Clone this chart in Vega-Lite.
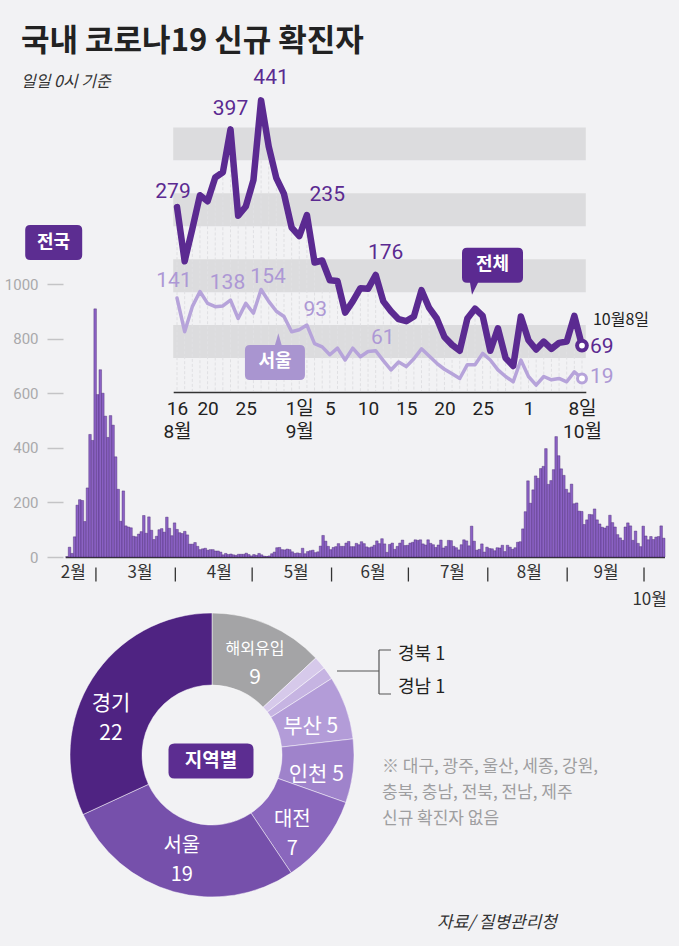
{
  "$schema": "https://vega.github.io/schema/vega-lite/v6.json",
  "width": 679,
  "height": 946,
  "autosize": {"type": "none"},
  "padding": 0,
  "background": "#f2f2f4",
  "config": {"view": {"stroke": null}, "font": "Noto Sans CJK KR", "axis": {"grid": false}},
  "title": {
    "text": "국내 코로나19 신규 확진자",
    "subtitle": "일일 0시 기준",
    "anchor": "start",
    "frame": "group",
    "offset": -91,
    "dx": 21,
    "font": "Noto Sans CJK KR",
    "fontSize": 31,
    "fontWeight": "bold",
    "color": "#222222",
    "subtitleFont": "Noto Sans CJK KR",
    "subtitleFontSize": 16,
    "subtitleFontStyle": "italic",
    "subtitleColor": "#333333",
    "subtitlePadding": 16
  },
  "datasets": {
    "daily": [
      {"date":"2020-02-18","n":1},{"date":"2020-02-19","n":36},{"date":"2020-02-20","n":13},{"date":"2020-02-21","n":74},{"date":"2020-02-22","n":190},{"date":"2020-02-23","n":210},{"date":"2020-02-24","n":207},{"date":"2020-02-25","n":130},{"date":"2020-02-26","n":253},{"date":"2020-02-27","n":449},{"date":"2020-02-28","n":427},{"date":"2020-02-29","n":909},
      {"date":"2020-03-01","n":595},{"date":"2020-03-02","n":686},{"date":"2020-03-03","n":600},{"date":"2020-03-04","n":516},{"date":"2020-03-05","n":438},{"date":"2020-03-06","n":518},{"date":"2020-03-07","n":483},{"date":"2020-03-08","n":367},{"date":"2020-03-09","n":248},{"date":"2020-03-10","n":131},{"date":"2020-03-11","n":242},{"date":"2020-03-12","n":114},{"date":"2020-03-13","n":110},{"date":"2020-03-14","n":107},{"date":"2020-03-15","n":76},{"date":"2020-03-16","n":74},{"date":"2020-03-17","n":84},{"date":"2020-03-18","n":93},{"date":"2020-03-19","n":152},{"date":"2020-03-20","n":87},{"date":"2020-03-21","n":147},{"date":"2020-03-22","n":98},{"date":"2020-03-23","n":64},{"date":"2020-03-24","n":76},{"date":"2020-03-25","n":100},{"date":"2020-03-26","n":104},{"date":"2020-03-27","n":91},{"date":"2020-03-28","n":146},{"date":"2020-03-29","n":105},{"date":"2020-03-30","n":78},{"date":"2020-03-31","n":125},
      {"date":"2020-04-01","n":101},{"date":"2020-04-02","n":89},{"date":"2020-04-03","n":86},{"date":"2020-04-04","n":94},{"date":"2020-04-05","n":81},{"date":"2020-04-06","n":47},{"date":"2020-04-07","n":47},{"date":"2020-04-08","n":53},{"date":"2020-04-09","n":39},{"date":"2020-04-10","n":27},{"date":"2020-04-11","n":30},{"date":"2020-04-12","n":32},{"date":"2020-04-13","n":25},{"date":"2020-04-14","n":27},{"date":"2020-04-15","n":27},{"date":"2020-04-16","n":22},{"date":"2020-04-17","n":22},{"date":"2020-04-18","n":18},{"date":"2020-04-19","n":8},{"date":"2020-04-20","n":13},{"date":"2020-04-21","n":9},{"date":"2020-04-22","n":11},{"date":"2020-04-23","n":8},{"date":"2020-04-24","n":6},{"date":"2020-04-25","n":10},{"date":"2020-04-26","n":10},{"date":"2020-04-27","n":10},{"date":"2020-04-28","n":14},{"date":"2020-04-29","n":9},{"date":"2020-04-30","n":4},
      {"date":"2020-05-01","n":9},{"date":"2020-05-02","n":6},{"date":"2020-05-03","n":13},{"date":"2020-05-04","n":8},{"date":"2020-05-05","n":3},{"date":"2020-05-06","n":2},{"date":"2020-05-07","n":4},{"date":"2020-05-08","n":12},{"date":"2020-05-09","n":18},{"date":"2020-05-10","n":34},{"date":"2020-05-11","n":35},{"date":"2020-05-12","n":27},{"date":"2020-05-13","n":26},{"date":"2020-05-14","n":29},{"date":"2020-05-15","n":27},{"date":"2020-05-16","n":19},{"date":"2020-05-17","n":13},{"date":"2020-05-18","n":15},{"date":"2020-05-19","n":13},{"date":"2020-05-20","n":32},{"date":"2020-05-21","n":12},{"date":"2020-05-22","n":20},{"date":"2020-05-23","n":23},{"date":"2020-05-24","n":25},{"date":"2020-05-25","n":16},{"date":"2020-05-26","n":19},{"date":"2020-05-27","n":40},{"date":"2020-05-28","n":79},{"date":"2020-05-29","n":58},{"date":"2020-05-30","n":39},{"date":"2020-05-31","n":27},
      {"date":"2020-06-01","n":35},{"date":"2020-06-02","n":38},{"date":"2020-06-03","n":49},{"date":"2020-06-04","n":39},{"date":"2020-06-05","n":39},{"date":"2020-06-06","n":51},{"date":"2020-06-07","n":57},{"date":"2020-06-08","n":38},{"date":"2020-06-09","n":38},{"date":"2020-06-10","n":50},{"date":"2020-06-11","n":45},{"date":"2020-06-12","n":56},{"date":"2020-06-13","n":49},{"date":"2020-06-14","n":37},{"date":"2020-06-15","n":34},{"date":"2020-06-16","n":37},{"date":"2020-06-17","n":43},{"date":"2020-06-18","n":59},{"date":"2020-06-19","n":49},{"date":"2020-06-20","n":67},{"date":"2020-06-21","n":48},{"date":"2020-06-22","n":17},{"date":"2020-06-23","n":46},{"date":"2020-06-24","n":51},{"date":"2020-06-25","n":28},{"date":"2020-06-26","n":39},{"date":"2020-06-27","n":51},{"date":"2020-06-28","n":62},{"date":"2020-06-29","n":42},{"date":"2020-06-30","n":43},
      {"date":"2020-07-01","n":51},{"date":"2020-07-02","n":54},{"date":"2020-07-03","n":63},{"date":"2020-07-04","n":61},{"date":"2020-07-05","n":63},{"date":"2020-07-06","n":48},{"date":"2020-07-07","n":44},{"date":"2020-07-08","n":63},{"date":"2020-07-09","n":50},{"date":"2020-07-10","n":45},{"date":"2020-07-11","n":35},{"date":"2020-07-12","n":44},{"date":"2020-07-13","n":62},{"date":"2020-07-14","n":33},{"date":"2020-07-15","n":39},{"date":"2020-07-16","n":61},{"date":"2020-07-17","n":60},{"date":"2020-07-18","n":39},{"date":"2020-07-19","n":34},{"date":"2020-07-20","n":26},{"date":"2020-07-21","n":45},{"date":"2020-07-22","n":63},{"date":"2020-07-23","n":59},{"date":"2020-07-24","n":41},{"date":"2020-07-25","n":113},{"date":"2020-07-26","n":58},{"date":"2020-07-27","n":25},{"date":"2020-07-28","n":28},{"date":"2020-07-29","n":48},{"date":"2020-07-30","n":18},{"date":"2020-07-31","n":36},
      {"date":"2020-08-01","n":31},{"date":"2020-08-02","n":30},{"date":"2020-08-03","n":23},{"date":"2020-08-04","n":34},{"date":"2020-08-05","n":33},{"date":"2020-08-06","n":43},{"date":"2020-08-07","n":20},{"date":"2020-08-08","n":43},{"date":"2020-08-09","n":36},{"date":"2020-08-10","n":28},{"date":"2020-08-11","n":34},{"date":"2020-08-12","n":54},{"date":"2020-08-13","n":56},{"date":"2020-08-14","n":103},{"date":"2020-08-15","n":166},{"date":"2020-08-16","n":279},{"date":"2020-08-17","n":197},{"date":"2020-08-18","n":246},{"date":"2020-08-19","n":297},{"date":"2020-08-20","n":288},{"date":"2020-08-21","n":324},{"date":"2020-08-22","n":332},{"date":"2020-08-23","n":397},{"date":"2020-08-24","n":266},{"date":"2020-08-25","n":280},{"date":"2020-08-26","n":320},{"date":"2020-08-27","n":441},{"date":"2020-08-28","n":371},{"date":"2020-08-29","n":323},{"date":"2020-08-30","n":299},{"date":"2020-08-31","n":248},
      {"date":"2020-09-01","n":235},{"date":"2020-09-02","n":267},{"date":"2020-09-03","n":195},{"date":"2020-09-04","n":198},{"date":"2020-09-05","n":168},{"date":"2020-09-06","n":167},{"date":"2020-09-07","n":119},{"date":"2020-09-08","n":136},{"date":"2020-09-09","n":156},{"date":"2020-09-10","n":155},{"date":"2020-09-11","n":176},{"date":"2020-09-12","n":136},{"date":"2020-09-13","n":121},{"date":"2020-09-14","n":109},{"date":"2020-09-15","n":106},{"date":"2020-09-16","n":113},{"date":"2020-09-17","n":153},{"date":"2020-09-18","n":126},{"date":"2020-09-19","n":110},{"date":"2020-09-20","n":82},{"date":"2020-09-21","n":70},{"date":"2020-09-22","n":61},{"date":"2020-09-23","n":110},{"date":"2020-09-24","n":125},{"date":"2020-09-25","n":114},{"date":"2020-09-26","n":61},{"date":"2020-09-27","n":95},{"date":"2020-09-28","n":50},{"date":"2020-09-29","n":38},{"date":"2020-09-30","n":113},
      {"date":"2020-10-01","n":77},{"date":"2020-10-02","n":63},{"date":"2020-10-03","n":75},{"date":"2020-10-04","n":64},{"date":"2020-10-05","n":73},{"date":"2020-10-06","n":75},{"date":"2020-10-07","n":114},{"date":"2020-10-08","n":69}
    ],
    "inset": [
      {"date":"2020-08-16","total":279,"seoul":141},{"date":"2020-08-17","total":197,"seoul":90},{"date":"2020-08-18","total":246,"seoul":128},{"date":"2020-08-19","total":297,"seoul":151},{"date":"2020-08-20","total":288,"seoul":133},{"date":"2020-08-21","total":324,"seoul":128},{"date":"2020-08-22","total":332,"seoul":129},{"date":"2020-08-23","total":397,"seoul":138},{"date":"2020-08-24","total":266,"seoul":110},{"date":"2020-08-25","total":280,"seoul":133},{"date":"2020-08-26","total":320,"seoul":118},{"date":"2020-08-27","total":441,"seoul":154},{"date":"2020-08-28","total":371,"seoul":136},{"date":"2020-08-29","total":323,"seoul":121},{"date":"2020-08-30","total":299,"seoul":113},{"date":"2020-08-31","total":248,"seoul":90},
      {"date":"2020-09-01","total":235,"seoul":93},{"date":"2020-09-02","total":267,"seoul":100},{"date":"2020-09-03","total":195,"seoul":72},{"date":"2020-09-04","total":198,"seoul":67},{"date":"2020-09-05","total":168,"seoul":55},{"date":"2020-09-06","total":167,"seoul":65},{"date":"2020-09-07","total":119,"seoul":47},{"date":"2020-09-08","total":136,"seoul":65},{"date":"2020-09-09","total":156,"seoul":52},{"date":"2020-09-10","total":155,"seoul":60},{"date":"2020-09-11","total":176,"seoul":61},{"date":"2020-09-12","total":136,"seoul":46},{"date":"2020-09-13","total":121,"seoul":32},{"date":"2020-09-14","total":109,"seoul":44},{"date":"2020-09-15","total":106,"seoul":37},{"date":"2020-09-16","total":113,"seoul":49},{"date":"2020-09-17","total":153,"seoul":64},{"date":"2020-09-18","total":126,"seoul":53},{"date":"2020-09-19","total":110,"seoul":42},{"date":"2020-09-20","total":82,"seoul":33},{"date":"2020-09-21","total":70,"seoul":26},{"date":"2020-09-22","total":61,"seoul":19},{"date":"2020-09-23","total":110,"seoul":40},{"date":"2020-09-24","total":125,"seoul":40},{"date":"2020-09-25","total":114,"seoul":57},{"date":"2020-09-26","total":61,"seoul":47},{"date":"2020-09-27","total":95,"seoul":32},{"date":"2020-09-28","total":50,"seoul":22},{"date":"2020-09-29","total":38,"seoul":14},{"date":"2020-09-30","total":113,"seoul":47},
      {"date":"2020-10-01","total":77,"seoul":22},{"date":"2020-10-02","total":63,"seoul":9},{"date":"2020-10-03","total":75,"seoul":22},{"date":"2020-10-04","total":64,"seoul":17},{"date":"2020-10-05","total":73,"seoul":19},{"date":"2020-10-06","total":75,"seoul":14},{"date":"2020-10-07","total":114,"seoul":29},{"date":"2020-10-08","total":69,"seoul":19}
    ],
    "regions": [
      {"i":1,"region":"해외유입","n":9},
      {"i":2,"region":"경북","n":1},
      {"i":3,"region":"경남","n":1},
      {"i":4,"region":"부산","n":5},
      {"i":5,"region":"인천","n":5},
      {"i":6,"region":"대전","n":7},
      {"i":7,"region":"서울","n":19},
      {"i":8,"region":"경기","n":22}
    ],
    "months": [
      {"date":"2020-03-01"},{"date":"2020-04-01"},{"date":"2020-05-01"},{"date":"2020-06-01"},{"date":"2020-07-01"},{"date":"2020-08-01"},{"date":"2020-09-01"},{"date":"2020-10-01"}
    ],
    "bands": [{"lo":350,"hi":400},{"lo":250,"hi":300},{"lo":150,"hi":200},{"lo":50,"hi":100}]
  },
  "resolve": {
    "scale": {"x": "independent", "y": "independent"},
    "axis": {"x": "independent", "y": "independent"}
  },
  "layer": [
    {
      "data": {"name": "daily"},
      "mark": {"type": "bar", "color": "#8b62c4", "stroke": "#43206f", "strokeWidth": 0.4, "binSpacing": 0},
      "encoding": {
        "x": {
          "field": "date", "type": "temporal", "timeUnit": "utcyearmonthdate",
          "scale": {"type": "utc", "domain": [{"year":2020,"month":2,"date":18,"utc":true},{"year":2020,"month":10,"date":9,"utc":true}], "range": [65.2, 664.5], "nice": false},
          "axis": {
            "orient": "bottom", "offset": -389,
            "values": [{"year":2020,"month":2,"date":21,"utc":true},{"year":2020,"month":3,"date":18,"utc":true},{"year":2020,"month":4,"date":18,"utc":true},{"year":2020,"month":5,"date":18,"utc":true},{"year":2020,"month":6,"date":17,"utc":true},{"year":2020,"month":7,"date":18,"utc":true},{"year":2020,"month":8,"date":17,"utc":true},{"year":2020,"month":9,"date":16,"utc":true},{"year":2020,"month":10,"date":3,"utc":true}],
            "labelExpr": "utcmonth(datum.value) == 9 ? ['', '10월'] : (utcmonth(datum.value) + 1) + '월'",
            "ticks": false, "domainColor": "#333333", "domainWidth": 1.6,
            "labelFont": "Noto Sans CJK KR", "labelFontSize": 17, "labelColor": "#333333", "labelPadding": 7,
            "labelLineHeight": 27, "labelBaseline": "top", "labelAlign": "center",
            "labelOverlap": false, "labelFlush": false, "labelBound": false, "title": null, "grid": false
          }
        },
        "y": {
          "field": "n", "type": "quantitative",
          "scale": {"domain": [0, 1000], "range": [557, 284], "nice": false, "zero": false},
          "axis": {
            "orient": "left", "offset": -63, "values": [0, 200, 400, 600, 800, 1000], "format": "d",
            "tickSize": 16, "tickColor": "#c4c4c6", "tickWidth": 1.5, "domain": false,
            "labelFont": "Roboto", "labelFontSize": 15, "labelColor": "#a9a9ab", "labelPadding": 9,
            "title": null, "grid": false, "labelFlush": false
          }
        }
      }
    },
    {
      "data": {"name": "months"},
      "mark": {"type": "tick", "orient": "vertical", "color": "#333333", "thickness": 1.3, "size": 14, "yOffset": 17.5, "opacity": 1},
      "encoding": {
        "x": {"field": "date", "type": "temporal", "scale": {"type": "utc", "domain": [{"year":2020,"month":2,"date":18,"utc":true},{"year":2020,"month":10,"date":9,"utc":true}], "range": [65.2, 664.5], "nice": false}, "axis": null},
        "y": {"datum": 0, "type": "quantitative", "scale": {"domain": [0, 1000], "range": [557, 284], "nice": false, "zero": false}, "axis": null}
      }
    },
    {
      "data": {"values": [{"label": "전국"}]},
      "mark": {"type": "point", "shape": "M-35,-59 H12 Q17,-59 17,-54 V-29 Q17,-24 12,-24 H-35 Q-40,-24 -40,-29 V-54 Q-40,-59 -35,-59 Z", "size": 4, "filled": true, "color": "#5c2d91", "opacity": 1, "strokeWidth": 0},
      "encoding": {
        "x": {"datum": {"year":2020,"month":2,"date":18,"utc":true}, "type": "temporal", "scale": {"type": "utc", "domain": [{"year":2020,"month":2,"date":18,"utc":true},{"year":2020,"month":10,"date":9,"utc":true}], "range": [65.2, 664.5], "nice": false}, "axis": null},
        "y": {"datum": 1000, "type": "quantitative", "scale": {"domain": [0, 1000], "range": [557, 284], "nice": false, "zero": false}, "axis": null}
      }
    },
    {
      "data": {"values": [{"label": "전국"}]},
      "mark": {"type": "text", "dx": -11.7, "dy": -41.5, "align": "center", "baseline": "middle", "color": "#ffffff", "fontSize": 18, "fontWeight": "bold"},
      "encoding": {
        "x": {"datum": {"year":2020,"month":2,"date":18,"utc":true}, "type": "temporal", "scale": {"type": "utc", "domain": [{"year":2020,"month":2,"date":18,"utc":true},{"year":2020,"month":10,"date":9,"utc":true}], "range": [65.2, 664.5], "nice": false}, "axis": null},
        "y": {"datum": 1000, "type": "quantitative", "scale": {"domain": [0, 1000], "range": [557, 284], "nice": false, "zero": false}, "axis": null},
        "text": {"field": "label", "type": "nominal"}
      }
    },
    {
      "data": {"name": "bands"},
      "mark": {"type": "rect", "color": "#dcdcde"},
      "encoding": {
        "x": {"datum": {"year":2020,"month":8,"date":15,"hours":12,"utc":true}, "type": "temporal",
              "scale": {"type": "utc", "domain": [{"year":2020,"month":8,"date":15,"hours":12,"utc":true},{"year":2020,"month":10,"date":8,"hours":12,"utc":true}], "range": [173.2, 585.8], "nice": false}, "axis": null},
        "x2": {"datum": {"year":2020,"month":10,"date":8,"hours":12,"utc":true}},
        "y": {"field": "lo", "type": "quantitative", "scale": {"domain": [0, 400], "range": [391, 127.4], "nice": false, "zero": false}, "axis": null},
        "y2": {"field": "hi"}
      }
    },
    {
      "data": {"name": "inset"},
      "mark": {"type": "rule", "color": "#e0e0e3", "strokeWidth": 1, "strokeDash": [3, 2]},
      "encoding": {
        "x": {"field": "date", "type": "temporal", "scale": {"type": "utc", "domain": [{"year":2020,"month":8,"date":15,"hours":12,"utc":true},{"year":2020,"month":10,"date":8,"hours":12,"utc":true}], "range": [173.2, 585.8], "nice": false}, "axis": null},
        "y": {"field": "total", "type": "quantitative", "scale": {"domain": [0, 400], "range": [391, 127.4], "nice": false, "zero": false}, "axis": null},
        "y2": {"datum": 0}
      }
    },
    {
      "data": {"name": "inset"},
      "mark": {"type": "line", "color": "#b6a3da", "strokeWidth": 3.5, "strokeJoin": "round", "strokeCap": "round"},
      "encoding": {
        "x": {
          "field": "date", "type": "temporal",
          "scale": {"type": "utc", "domain": [{"year":2020,"month":8,"date":15,"hours":12,"utc":true},{"year":2020,"month":10,"date":8,"hours":12,"utc":true}], "range": [173.2, 585.8], "nice": false},
          "axis": {
            "orient": "bottom", "offset": -554,
            "values": [{"year":2020,"month":8,"date":16,"utc":true},{"year":2020,"month":8,"date":20,"utc":true},{"year":2020,"month":8,"date":25,"utc":true},{"year":2020,"month":9,"date":1,"utc":true},{"year":2020,"month":9,"date":5,"utc":true},{"year":2020,"month":9,"date":10,"utc":true},{"year":2020,"month":9,"date":15,"utc":true},{"year":2020,"month":9,"date":20,"utc":true},{"year":2020,"month":9,"date":25,"utc":true},{"year":2020,"month":10,"date":1,"utc":true},{"year":2020,"month":10,"date":8,"utc":true}],
            "labelExpr": "utcmonth(datum.value) == 7 && utcdate(datum.value) == 16 ? ['16', '8월'] : (utcmonth(datum.value) == 8 && utcdate(datum.value) == 1 ? ['\u30001일', '\u30009월'] : (utcmonth(datum.value) == 9 && utcdate(datum.value) == 8 ? ['\u30008일', '\u200210월'] : '' + utcdate(datum.value)))",
            "ticks": false, "domainColor": "#333333", "domainWidth": 1.6,
            "labelFont": "Roboto, 'Noto Sans CJK KR'", "labelFontSize": 19, "labelColor": "#222222", "labelPadding": 7,
            "labelLineHeight": 23, "labelBaseline": "top", "labelAlign": "center",
            "labelOverlap": false, "labelFlush": false, "labelBound": false, "title": null, "grid": false
          }
        },
        "y": {"field": "seoul", "type": "quantitative", "scale": {"domain": [0, 400], "range": [391, 127.4], "nice": false, "zero": false}, "axis": null}
      }
    },
    {
      "data": {"name": "inset"},
      "mark": {"type": "line", "color": "#5b2a91", "strokeWidth": 6.5, "strokeJoin": "round", "strokeCap": "round"},
      "encoding": {
        "x": {"field": "date", "type": "temporal", "scale": {"type": "utc", "domain": [{"year":2020,"month":8,"date":15,"hours":12,"utc":true},{"year":2020,"month":10,"date":8,"hours":12,"utc":true}], "range": [173.2, 585.8], "nice": false}, "axis": null},
        "y": {"field": "total", "type": "quantitative", "scale": {"domain": [0, 400], "range": [391, 127.4], "nice": false, "zero": false}, "axis": null}
      }
    },
    {
      "data": {"name": "inset"},
      "transform": [{"filter": "utcFormat(toDate(datum.date), '%m-%d') == '10-08'"}],
      "mark": {"type": "point", "shape": "circle", "size": 80, "filled": true, "fill": "#ffffff", "stroke": "#b6a3da", "strokeWidth": 3, "opacity": 1},
      "encoding": {
        "x": {"field": "date", "type": "temporal", "scale": {"type": "utc", "domain": [{"year":2020,"month":8,"date":15,"hours":12,"utc":true},{"year":2020,"month":10,"date":8,"hours":12,"utc":true}], "range": [173.2, 585.8], "nice": false}, "axis": null},
        "y": {"field": "seoul", "type": "quantitative", "scale": {"domain": [0, 400], "range": [391, 127.4], "nice": false, "zero": false}, "axis": null}
      }
    },
    {
      "data": {"name": "inset"},
      "transform": [{"filter": "utcFormat(toDate(datum.date), '%m-%d') == '10-08'"}],
      "mark": {"type": "point", "shape": "circle", "size": 95, "filled": true, "fill": "#ffffff", "stroke": "#5b2a91", "strokeWidth": 4, "opacity": 1},
      "encoding": {
        "x": {"field": "date", "type": "temporal", "scale": {"type": "utc", "domain": [{"year":2020,"month":8,"date":15,"hours":12,"utc":true},{"year":2020,"month":10,"date":8,"hours":12,"utc":true}], "range": [173.2, 585.8], "nice": false}, "axis": null},
        "y": {"field": "total", "type": "quantitative", "scale": {"domain": [0, 400], "range": [391, 127.4], "nice": false, "zero": false}, "axis": null}
      }
    },
    {
      "data": {"name": "inset"},
      "transform": [{"filter": "utcFormat(toDate(datum.date), '%m-%d') == '08-16'"}],
      "mark": {"type": "text", "font": "Roboto", "fontSize": 21, "color": "#5b2a91", "align": "center", "baseline": "middle", "dx": -4, "dy": -15},
      "encoding": {
        "x": {"field": "date", "type": "temporal", "scale": {"type": "utc", "domain": [{"year":2020,"month":8,"date":15,"hours":12,"utc":true},{"year":2020,"month":10,"date":8,"hours":12,"utc":true}], "range": [173.2, 585.8], "nice": false}, "axis": null},
        "y": {"field": "total", "type": "quantitative", "scale": {"domain": [0, 400], "range": [391, 127.4], "nice": false, "zero": false}, "axis": null},
        "text": {"field": "total", "type": "quantitative"}
      }
    },
    {
      "data": {"name": "inset"},
      "transform": [{"filter": "utcFormat(toDate(datum.date), '%m-%d') == '08-23'"}],
      "mark": {"type": "text", "font": "Roboto", "fontSize": 21, "color": "#5b2a91", "align": "center", "baseline": "middle", "dx": 0, "dy": -20},
      "encoding": {
        "x": {"field": "date", "type": "temporal", "scale": {"type": "utc", "domain": [{"year":2020,"month":8,"date":15,"hours":12,"utc":true},{"year":2020,"month":10,"date":8,"hours":12,"utc":true}], "range": [173.2, 585.8], "nice": false}, "axis": null},
        "y": {"field": "total", "type": "quantitative", "scale": {"domain": [0, 400], "range": [391, 127.4], "nice": false, "zero": false}, "axis": null},
        "text": {"field": "total", "type": "quantitative"}
      }
    },
    {
      "data": {"name": "inset"},
      "transform": [{"filter": "indexof(['08-27', '09-11'], utcFormat(toDate(datum.date), '%m-%d')) >= 0"}],
      "mark": {"type": "text", "font": "Roboto", "fontSize": 21, "color": "#5b2a91", "align": "center", "baseline": "middle", "dx": 10, "dy": -22},
      "encoding": {
        "x": {"field": "date", "type": "temporal", "scale": {"type": "utc", "domain": [{"year":2020,"month":8,"date":15,"hours":12,"utc":true},{"year":2020,"month":10,"date":8,"hours":12,"utc":true}], "range": [173.2, 585.8], "nice": false}, "axis": null},
        "y": {"field": "total", "type": "quantitative", "scale": {"domain": [0, 400], "range": [391, 127.4], "nice": false, "zero": false}, "axis": null},
        "text": {"field": "total", "type": "quantitative"}
      }
    },
    {
      "data": {"name": "inset"},
      "transform": [{"filter": "utcFormat(toDate(datum.date), '%m-%d') == '09-01'"}],
      "mark": {"type": "text", "font": "Roboto", "fontSize": 21, "color": "#5b2a91", "align": "center", "baseline": "middle", "dx": 28, "dy": -41},
      "encoding": {
        "x": {"field": "date", "type": "temporal", "scale": {"type": "utc", "domain": [{"year":2020,"month":8,"date":15,"hours":12,"utc":true},{"year":2020,"month":10,"date":8,"hours":12,"utc":true}], "range": [173.2, 585.8], "nice": false}, "axis": null},
        "y": {"field": "total", "type": "quantitative", "scale": {"domain": [0, 400], "range": [391, 127.4], "nice": false, "zero": false}, "axis": null},
        "text": {"field": "total", "type": "quantitative"}
      }
    },
    {
      "data": {"name": "inset"},
      "transform": [{"filter": "indexof(['08-16', '08-23'], utcFormat(toDate(datum.date), '%m-%d')) >= 0"}],
      "mark": {"type": "text", "font": "Roboto", "fontSize": 21, "color": "#ad98d5", "align": "center", "baseline": "middle", "dx": -3, "dy": -17},
      "encoding": {
        "x": {"field": "date", "type": "temporal", "scale": {"type": "utc", "domain": [{"year":2020,"month":8,"date":15,"hours":12,"utc":true},{"year":2020,"month":10,"date":8,"hours":12,"utc":true}], "range": [173.2, 585.8], "nice": false}, "axis": null},
        "y": {"field": "seoul", "type": "quantitative", "scale": {"domain": [0, 400], "range": [391, 127.4], "nice": false, "zero": false}, "axis": null},
        "text": {"field": "seoul", "type": "quantitative"}
      }
    },
    {
      "data": {"name": "inset"},
      "transform": [{"filter": "indexof(['08-27', '09-11'], utcFormat(toDate(datum.date), '%m-%d')) >= 0"}],
      "mark": {"type": "text", "font": "Roboto", "fontSize": 21, "color": "#ad98d5", "align": "center", "baseline": "middle", "dx": 7, "dy": -13},
      "encoding": {
        "x": {"field": "date", "type": "temporal", "scale": {"type": "utc", "domain": [{"year":2020,"month":8,"date":15,"hours":12,"utc":true},{"year":2020,"month":10,"date":8,"hours":12,"utc":true}], "range": [173.2, 585.8], "nice": false}, "axis": null},
        "y": {"field": "seoul", "type": "quantitative", "scale": {"domain": [0, 400], "range": [391, 127.4], "nice": false, "zero": false}, "axis": null},
        "text": {"field": "seoul", "type": "quantitative"}
      }
    },
    {
      "data": {"name": "inset"},
      "transform": [{"filter": "utcFormat(toDate(datum.date), '%m-%d') == '09-01'"}],
      "mark": {"type": "text", "font": "Roboto", "fontSize": 21, "color": "#ad98d5", "align": "center", "baseline": "middle", "dx": 16, "dy": -20},
      "encoding": {
        "x": {"field": "date", "type": "temporal", "scale": {"type": "utc", "domain": [{"year":2020,"month":8,"date":15,"hours":12,"utc":true},{"year":2020,"month":10,"date":8,"hours":12,"utc":true}], "range": [173.2, 585.8], "nice": false}, "axis": null},
        "y": {"field": "seoul", "type": "quantitative", "scale": {"domain": [0, 400], "range": [391, 127.4], "nice": false, "zero": false}, "axis": null},
        "text": {"field": "seoul", "type": "quantitative"}
      }
    },
    {
      "data": {"name": "inset"},
      "transform": [{"filter": "utcFormat(toDate(datum.date), '%m-%d') == '10-08'"}],
      "mark": {"type": "text", "font": "Roboto", "fontSize": 21, "color": "#5b2a91", "align": "left", "baseline": "middle", "dx": 8, "dy": 1},
      "encoding": {
        "x": {"field": "date", "type": "temporal", "scale": {"type": "utc", "domain": [{"year":2020,"month":8,"date":15,"hours":12,"utc":true},{"year":2020,"month":10,"date":8,"hours":12,"utc":true}], "range": [173.2, 585.8], "nice": false}, "axis": null},
        "y": {"field": "total", "type": "quantitative", "scale": {"domain": [0, 400], "range": [391, 127.4], "nice": false, "zero": false}, "axis": null},
        "text": {"field": "total", "type": "quantitative"}
      }
    },
    {
      "data": {"name": "inset"},
      "transform": [{"filter": "utcFormat(toDate(datum.date), '%m-%d') == '10-08'"}],
      "mark": {"type": "text", "font": "Roboto", "fontSize": 21, "color": "#ad98d5", "align": "left", "baseline": "middle", "dx": 8, "dy": -1},
      "encoding": {
        "x": {"field": "date", "type": "temporal", "scale": {"type": "utc", "domain": [{"year":2020,"month":8,"date":15,"hours":12,"utc":true},{"year":2020,"month":10,"date":8,"hours":12,"utc":true}], "range": [173.2, 585.8], "nice": false}, "axis": null},
        "y": {"field": "seoul", "type": "quantitative", "scale": {"domain": [0, 400], "range": [391, 127.4], "nice": false, "zero": false}, "axis": null},
        "text": {"field": "seoul", "type": "quantitative"}
      }
    },
    {
      "data": {"name": "inset"},
      "transform": [{"filter": "utcFormat(toDate(datum.date), '%m-%d') == '10-08'"}],
      "mark": {"type": "text", "font": "Noto Sans CJK KR", "fontSize": 16, "color": "#222222", "align": "left", "baseline": "middle", "dx": 11, "dy": -26},
      "encoding": {
        "x": {"field": "date", "type": "temporal", "scale": {"type": "utc", "domain": [{"year":2020,"month":8,"date":15,"hours":12,"utc":true},{"year":2020,"month":10,"date":8,"hours":12,"utc":true}], "range": [173.2, 585.8], "nice": false}, "axis": null},
        "y": {"field": "total", "type": "quantitative", "scale": {"domain": [0, 400], "range": [391, 127.4], "nice": false, "zero": false}, "axis": null},
        "text": {"value": "10월8일"}
      }
    },
    {
      "data": {"name": "inset"},
      "transform": [{"filter": "utcFormat(toDate(datum.date), '%m-%d') == '09-24'"}],
      "mark": {"type": "point", "shape": "M-8,-61 H43 Q48,-61 48,-56 V-31 Q48,-26 43,-26 H3 L-3,-14 L-5,-26 H-8 Q-13,-26 -13,-31 V-56 Q-13,-61 -8,-61 Z", "size": 4, "filled": true, "color": "#5b2a91", "opacity": 1, "strokeWidth": 0},
      "encoding": {
        "x": {"field": "date", "type": "temporal", "scale": {"type": "utc", "domain": [{"year":2020,"month":8,"date":15,"hours":12,"utc":true},{"year":2020,"month":10,"date":8,"hours":12,"utc":true}], "range": [173.2, 585.8], "nice": false}, "axis": null},
        "y": {"field": "total", "type": "quantitative", "scale": {"domain": [0, 400], "range": [391, 127.4], "nice": false, "zero": false}, "axis": null}
      }
    },
    {
      "data": {"name": "inset"},
      "transform": [{"filter": "utcFormat(toDate(datum.date), '%m-%d') == '09-24'"}],
      "mark": {"type": "text", "fontSize": 18, "fontWeight": "bold", "color": "#ffffff", "align": "center", "baseline": "middle", "dx": 17.5, "dy": -43.5},
      "encoding": {
        "x": {"field": "date", "type": "temporal", "scale": {"type": "utc", "domain": [{"year":2020,"month":8,"date":15,"hours":12,"utc":true},{"year":2020,"month":10,"date":8,"hours":12,"utc":true}], "range": [173.2, 585.8], "nice": false}, "axis": null},
        "y": {"field": "total", "type": "quantitative", "scale": {"domain": [0, 400], "range": [391, 127.4], "nice": false, "zero": false}, "axis": null},
        "text": {"value": "전체"}
      }
    },
    {
      "data": {"name": "inset"},
      "transform": [{"filter": "utcFormat(toDate(datum.date), '%m-%d') == '08-29'"}],
      "mark": {"type": "point", "shape": "M-26.4,33.7 H-1.4 L2,22 L5.3,33.7 H23.6 Q28.6,33.7 28.6,38.7 V63.7 Q28.6,68.7 23.6,68.7 H-26.4 Q-31.4,68.7 -31.4,63.7 V38.7 Q-31.4,33.7 -26.4,33.7 Z", "size": 4, "filled": true, "color": "#a995d0", "opacity": 1, "strokeWidth": 0},
      "encoding": {
        "x": {"field": "date", "type": "temporal", "scale": {"type": "utc", "domain": [{"year":2020,"month":8,"date":15,"hours":12,"utc":true},{"year":2020,"month":10,"date":8,"hours":12,"utc":true}], "range": [173.2, 585.8], "nice": false}, "axis": null},
        "y": {"field": "seoul", "type": "quantitative", "scale": {"domain": [0, 400], "range": [391, 127.4], "nice": false, "zero": false}, "axis": null}
      }
    },
    {
      "data": {"name": "inset"},
      "transform": [{"filter": "utcFormat(toDate(datum.date), '%m-%d') == '08-29'"}],
      "mark": {"type": "text", "fontSize": 18, "fontWeight": "bold", "color": "#ffffff", "align": "center", "baseline": "middle", "dx": -1.4, "dy": 50.7},
      "encoding": {
        "x": {"field": "date", "type": "temporal", "scale": {"type": "utc", "domain": [{"year":2020,"month":8,"date":15,"hours":12,"utc":true},{"year":2020,"month":10,"date":8,"hours":12,"utc":true}], "range": [173.2, 585.8], "nice": false}, "axis": null},
        "y": {"field": "seoul", "type": "quantitative", "scale": {"domain": [0, 400], "range": [391, 127.4], "nice": false, "zero": false}, "axis": null},
        "text": {"value": "서울"}
      }
    },
    {
      "data": {"name": "regions"},
      "mark": {"type": "arc", "radius": 142, "radius2": 70, "stroke": "#ffffff", "strokeWidth": 0.8, "strokeOpacity": 0.6},
      "encoding": {
        "x": {"datum": "donut", "type": "nominal", "scale": {"type": "point", "domain": ["donut"], "range": [70, 354]}, "axis": null},
        "y": {"datum": "donut", "type": "nominal", "scale": {"type": "point", "domain": ["donut"], "range": [613, 897]}, "axis": null},
        "theta": {"field": "n", "type": "quantitative", "stack": true, "scale": {"domain": [0, 69]}},
        "order": {"field": "i", "type": "quantitative", "sort": "ascending"},
        "color": {"field": "region", "type": "nominal", "legend": null,
          "scale": {"domain": ["해외유입","경북","경남","부산","인천","대전","서울","경기"], "range": ["#a4a4a6","#d6c9ea","#c6b4e2","#b39cd8","#9f83cb","#8a67bd","#7650ab","#4f2382"]}}
      }
    },
    {
      "data": {"name": "regions"},
      "transform": [
        {"stack": "n", "groupby": [], "sort": [{"field": "i", "order": "ascending"}], "as": ["s0", "s1"]},
        {"calculate": "(datum.s0 + datum.s1) / 2", "as": "mid"},
        {"filter": "datum.region == '부산' || datum.region == '인천'"},
        {"calculate": "datum.region + ' ' + datum.n", "as": "lab"}
      ],
      "mark": {"type": "text", "radius": 108, "dx": -3, "dy": 8, "align": "center", "baseline": "middle", "color": "#ffffff", "fontSize": 21},
      "encoding": {
        "x": {"datum": "donut", "type": "nominal", "scale": {"type": "point", "domain": ["donut"], "range": [70, 354]}, "axis": null},
        "y": {"datum": "donut", "type": "nominal", "scale": {"type": "point", "domain": ["donut"], "range": [613, 897]}, "axis": null},
        "theta": {"field": "mid", "type": "quantitative"},
        "text": {"field": "lab", "type": "nominal"}
      }
    },
    {
      "data": {"name": "regions"},
      "transform": [
        {"stack": "n", "groupby": [], "sort": [{"field": "i", "order": "ascending"}], "as": ["s0", "s1"]},
        {"calculate": "(datum.s0 + datum.s1) / 2", "as": "mid"},
        {"filter": "datum.region == '해외유입'"}
      ],
      "mark": {"type": "text", "radius": 108, "dx": 0, "dy": -7, "align": "center", "baseline": "middle", "color": "#ffffff", "fontSize": 16},
      "encoding": {
        "x": {"datum": "donut", "type": "nominal", "scale": {"type": "point", "domain": ["donut"], "range": [70, 354]}, "axis": null},
        "y": {"datum": "donut", "type": "nominal", "scale": {"type": "point", "domain": ["donut"], "range": [613, 897]}, "axis": null},
        "theta": {"field": "mid", "type": "quantitative"},
        "text": {"field": "region", "type": "nominal"}
      }
    },
    {
      "data": {"name": "regions"},
      "transform": [
        {"stack": "n", "groupby": [], "sort": [{"field": "i", "order": "ascending"}], "as": ["s0", "s1"]},
        {"calculate": "(datum.s0 + datum.s1) / 2", "as": "mid"},
        {"filter": "datum.region == '해외유입'"}
      ],
      "mark": {"type": "text", "radius": 108, "dx": 0, "dy": 22, "align": "center", "baseline": "middle", "color": "#ffffff", "fontSize": 21},
      "encoding": {
        "x": {"datum": "donut", "type": "nominal", "scale": {"type": "point", "domain": ["donut"], "range": [70, 354]}, "axis": null},
        "y": {"datum": "donut", "type": "nominal", "scale": {"type": "point", "domain": ["donut"], "range": [613, 897]}, "axis": null},
        "theta": {"field": "mid", "type": "quantitative"},
        "text": {"field": "n", "type": "quantitative"}
      }
    },
    {
      "data": {"name": "regions"},
      "transform": [
        {"stack": "n", "groupby": [], "sort": [{"field": "i", "order": "ascending"}], "as": ["s0", "s1"]},
        {"calculate": "(datum.s0 + datum.s1) / 2", "as": "mid"},
        {"filter": "datum.region == '대전'"},
        {"calculate": "datum.region + '\\n' + datum.n", "as": "lab"}
      ],
      "mark": {"type": "text", "radius": 108, "dx": -5, "dy": -1, "align": "center", "baseline": "middle", "color": "#ffffff", "fontSize": 20, "lineHeight": 29, "lineBreak": "\n"},
      "encoding": {
        "x": {"datum": "donut", "type": "nominal", "scale": {"type": "point", "domain": ["donut"], "range": [70, 354]}, "axis": null},
        "y": {"datum": "donut", "type": "nominal", "scale": {"type": "point", "domain": ["donut"], "range": [613, 897]}, "axis": null},
        "theta": {"field": "mid", "type": "quantitative"},
        "text": {"field": "lab", "type": "nominal"}
      }
    },
    {
      "data": {"name": "regions"},
      "transform": [
        {"stack": "n", "groupby": [], "sort": [{"field": "i", "order": "ascending"}], "as": ["s0", "s1"]},
        {"calculate": "(datum.s0 + datum.s1) / 2", "as": "mid"},
        {"filter": "datum.region == '서울'"},
        {"calculate": "datum.region + '\\n' + datum.n", "as": "lab"}
      ],
      "mark": {"type": "text", "radius": 108, "dx": -1, "dy": -12.5, "align": "center", "baseline": "middle", "color": "#ffffff", "fontSize": 20, "lineHeight": 29, "lineBreak": "\n"},
      "encoding": {
        "x": {"datum": "donut", "type": "nominal", "scale": {"type": "point", "domain": ["donut"], "range": [70, 354]}, "axis": null},
        "y": {"datum": "donut", "type": "nominal", "scale": {"type": "point", "domain": ["donut"], "range": [613, 897]}, "axis": null},
        "theta": {"field": "mid", "type": "quantitative"},
        "text": {"field": "lab", "type": "nominal"}
      }
    },
    {
      "data": {"name": "regions"},
      "transform": [
        {"stack": "n", "groupby": [], "sort": [{"field": "i", "order": "ascending"}], "as": ["s0", "s1"]},
        {"calculate": "(datum.s0 + datum.s1) / 2", "as": "mid"},
        {"filter": "datum.region == '경기'"},
        {"calculate": "datum.region + '\\n' + datum.n", "as": "lab"}
      ],
      "mark": {"type": "text", "radius": 108, "dx": -10, "dy": 7, "align": "center", "baseline": "middle", "color": "#ffffff", "fontSize": 21, "lineHeight": 30, "lineBreak": "\n"},
      "encoding": {
        "x": {"datum": "donut", "type": "nominal", "scale": {"type": "point", "domain": ["donut"], "range": [70, 354]}, "axis": null},
        "y": {"datum": "donut", "type": "nominal", "scale": {"type": "point", "domain": ["donut"], "range": [613, 897]}, "axis": null},
        "theta": {"field": "mid", "type": "quantitative"},
        "text": {"field": "lab", "type": "nominal"}
      }
    },
    {
      "data": {"name": "regions"},
      "transform": [{"filter": "datum.region == '경북'"}],
      "mark": {"type": "point", "shape": "M125,-84 H167 M167,-105 V-61 M167,-105 H179 M167,-61 H179", "size": 4, "filled": false, "stroke": "#555555", "strokeWidth": 1.2, "opacity": 1},
      "encoding": {
        "x": {"datum": "donut", "type": "nominal", "scale": {"type": "point", "domain": ["donut"], "range": [70, 354]}, "axis": null},
        "y": {"datum": "donut", "type": "nominal", "scale": {"type": "point", "domain": ["donut"], "range": [613, 897]}, "axis": null}
      }
    },
    {
      "data": {"name": "regions"},
      "transform": [{"filter": "datum.region == '경북'"}, {"calculate": "datum.region + ' ' + datum.n", "as": "lab"}],
      "mark": {"type": "text", "align": "left", "baseline": "middle", "dx": 186, "dy": -100, "fontSize": 18, "color": "#222222"},
      "encoding": {
        "x": {"datum": "donut", "type": "nominal", "scale": {"type": "point", "domain": ["donut"], "range": [70, 354]}, "axis": null},
        "y": {"datum": "donut", "type": "nominal", "scale": {"type": "point", "domain": ["donut"], "range": [613, 897]}, "axis": null},
        "text": {"field": "lab", "type": "nominal"}
      }
    },
    {
      "data": {"name": "regions"},
      "transform": [{"filter": "datum.region == '경남'"}, {"calculate": "datum.region + ' ' + datum.n", "as": "lab"}],
      "mark": {"type": "text", "align": "left", "baseline": "middle", "dx": 186, "dy": -67, "fontSize": 18, "color": "#222222"},
      "encoding": {
        "x": {"datum": "donut", "type": "nominal", "scale": {"type": "point", "domain": ["donut"], "range": [70, 354]}, "axis": null},
        "y": {"datum": "donut", "type": "nominal", "scale": {"type": "point", "domain": ["donut"], "range": [613, 897]}, "axis": null},
        "text": {"field": "lab", "type": "nominal"}
      }
    },
    {
      "data": {"values": [{"label": "지역별"}]},
      "mark": {"type": "point", "shape": "M-37.5,-11.5 H35.5 Q41.5,-11.5 41.5,-5.5 V17.5 Q41.5,23.5 35.5,23.5 H-37.5 Q-43.5,23.5 -43.5,17.5 V-5.5 Q-43.5,-11.5 -37.5,-11.5 Z", "size": 4, "filled": true, "color": "#5c2d91", "opacity": 1, "strokeWidth": 0},
      "encoding": {
        "x": {"datum": "donut", "type": "nominal", "scale": {"type": "point", "domain": ["donut"], "range": [70, 354]}, "axis": null},
        "y": {"datum": "donut", "type": "nominal", "scale": {"type": "point", "domain": ["donut"], "range": [613, 897]}, "axis": null}
      }
    },
    {
      "data": {"values": [{"label": "지역별"}]},
      "mark": {"type": "text", "align": "center", "baseline": "middle", "dx": -1, "dy": 6, "fontSize": 19, "fontWeight": "bold", "color": "#ffffff"},
      "encoding": {
        "x": {"datum": "donut", "type": "nominal", "scale": {"type": "point", "domain": ["donut"], "range": [70, 354]}, "axis": null},
        "y": {"datum": "donut", "type": "nominal", "scale": {"type": "point", "domain": ["donut"], "range": [613, 897]}, "axis": null},
        "text": {"field": "label", "type": "nominal"}
      }
    },
    {
      "data": {"values": [{"t": "※ 대구, 광주, 울산, 세종, 강원,\n\u3000충북, 충남, 전북, 전남, 제주\n\u3000신규 확진자 없음"}]},
      "mark": {"type": "text", "align": "left", "baseline": "alphabetic", "dx": 170, "dy": 17, "fontSize": 17, "lineHeight": 26, "lineBreak": "\n", "color": "#9e9ea0"},
      "encoding": {
        "x": {"datum": "donut", "type": "nominal", "scale": {"type": "point", "domain": ["donut"], "range": [70, 354]}, "axis": null},
        "y": {"datum": "donut", "type": "nominal", "scale": {"type": "point", "domain": ["donut"], "range": [613, 897]}, "axis": null},
        "text": {"field": "t", "type": "nominal"}
      }
    },
    {
      "data": {"values": [{"t": "자료/ 질병관리청"}]},
      "mark": {"type": "text", "align": "left", "baseline": "alphabetic", "dx": 225, "dy": 173, "fontSize": 17, "fontStyle": "italic", "color": "#333333"},
      "encoding": {
        "x": {"datum": "donut", "type": "nominal", "scale": {"type": "point", "domain": ["donut"], "range": [70, 354]}, "axis": null},
        "y": {"datum": "donut", "type": "nominal", "scale": {"type": "point", "domain": ["donut"], "range": [613, 897]}, "axis": null},
        "text": {"field": "t", "type": "nominal"}
      }
    }
  ]
}
